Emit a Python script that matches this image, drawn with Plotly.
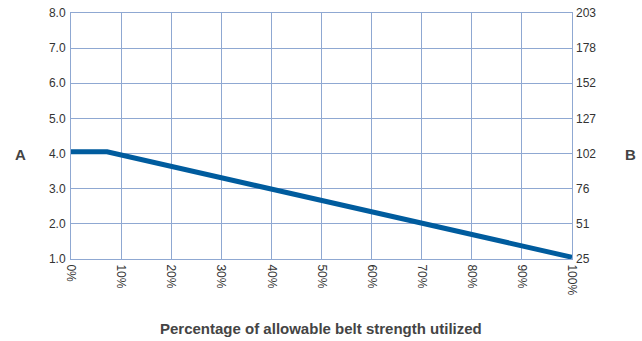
import plotly.graph_objects as go

# Data
x_pct = [0, 7.2, 100]
y_a = [4.05, 4.05, 1.05]
x_ticks = [0, 10, 20, 30, 40, 50, 60, 70, 80, 90, 100]
x_labels = [f"{v}%" for v in x_ticks]
y_ticks = [1, 2, 3, 4, 5, 6, 7, 8]
y_labels = ["1.0", "2.0", "3.0", "4.0", "5.0", "6.0", "7.0", "8.0"]
y2_labels = ["25", "51", "76", "102", "127", "152", "178", "203"]

grid = "#8FA8D2"
W, H = 642, 341
L, T = 71, 13
pw, ph = 501, 246
R = W - L - pw
B = H - T - ph


def px_to_paper(px, py):
    return (px - L) / pw, (H - B - py) / ph


fig = go.Figure()
fig.add_trace(go.Scatter(x=x_pct, y=y_a, mode="lines",
                         line=dict(color="#005C9E", width=5), showlegend=False))
fig.add_trace(go.Scatter(x=x_pct, y=y_a, yaxis="y2", mode="lines",
                         line=dict(width=0), showlegend=False, hoverinfo="skip"))

tickfont = dict(family="Liberation Sans, Arial, sans-serif", size=12, color="#333333")
labfont = dict(family="Liberation Sans Narrow, Arial Narrow, sans-serif", size=15, color="#444444")
ax, ay = px_to_paper(20, 155)
bx, by = px_to_paper(630, 155)
tx, ty = px_to_paper(321, 328)
common = dict(xref="paper", yref="paper", showarrow=False, font=labfont,
              xanchor="center", yanchor="middle")
fig.update_layout(
    width=W, height=H,
    margin=dict(l=L, r=R, t=T, b=B),
    plot_bgcolor="white", paper_bgcolor="white",
    xaxis=dict(range=[0, 100], tickvals=x_ticks, ticktext=x_labels, tickangle=90,
               showgrid=True, gridcolor=grid, gridwidth=1, linecolor=grid, linewidth=1,
               mirror=True, showline=True, zeroline=False, ticks="", tickfont=tickfont,
               automargin=False, ticklabelstandoff=2, ticklabeloverflow="allow"),
    yaxis=dict(range=[1, 8], tickvals=y_ticks, ticktext=y_labels,
               showgrid=True, gridcolor=grid, gridwidth=1, linecolor=grid, linewidth=1,
               mirror=True, showline=True, zeroline=False, ticks="", tickfont=tickfont,
               automargin=False, ticklabelstandoff=2, ticklabeloverflow="allow"),
    yaxis2=dict(range=[1, 8], tickvals=y_ticks, ticktext=y2_labels, overlaying="y",
                side="right", showgrid=False, zeroline=False, showline=False,
                ticks="", tickfont=tickfont, automargin=False, ticklabelstandoff=3,
                ticklabeloverflow="allow"),
    annotations=[
        dict(text="<b>A</b>", x=ax, y=ay, **common),
        dict(text="<b>B</b>", x=bx, y=by, **common),
        dict(text="<b>Percentage of allowable belt strength utilized</b>", x=tx, y=ty, **common),
    ],
)
fig.write_html("out.html", config={"displayModeBar": False},
               post_script="document.body.style.margin='0';document.body.style.overflow='hidden';")
